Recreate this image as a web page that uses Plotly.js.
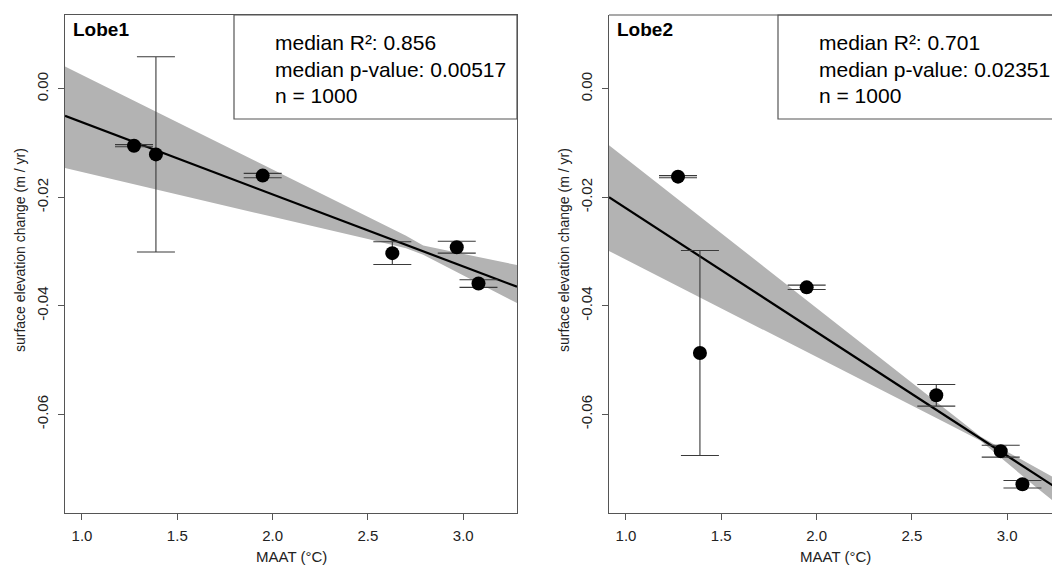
<!DOCTYPE html>
<html>
<head>
<meta charset="utf-8">
<script src="https://cdn.plot.ly/plotly-3.0.1.min.js"></script>
<style>html,body{margin:0;padding:0;background:#fff;}#chart{width:1052px;height:565px;}</style>
</head>
<body>
<div id="chart"></div>
<script>
// ---- data ----
const maat = [1.273, 1.388, 1.948, 2.628, 2.966, 3.080];

const lobe1Y   = [-0.0105, -0.0121, -0.0160, -0.0303, -0.0292, -0.0359];
const lobe1Err = [0.0002, 0.0180, 0.0004, 0.0021, 0.0011, 0.0007];
const lobe2Y   = [-0.0162, -0.0487, -0.0366, -0.0565, -0.0668, -0.0729];
const lobe2Err = [0.0002, 0.0189, 0.0004, 0.0020, 0.0011, 0.0007];

const lobe1LineX = [0.911, 3.282];
const lobe1LineY = [-0.0050, -0.0365];
const lobe2LineX = [0.911, 3.282];
const lobe2LineY = [-0.0200, -0.0741];

const band1X     = [0.911, 1.5, 2.0, 2.5, 2.7, 2.79, 2.9, 3.05, 3.282];
const band1Upper = [0.0041, -0.0062, -0.0149, -0.0236, -0.0271, -0.0289, -0.0297, -0.0308, -0.0325];
const band1Lower = [-0.0146, -0.0195, -0.0236, -0.0277, -0.0294, -0.0306, -0.0326, -0.0353, -0.0395];

const band2X     = [0.911, 1.5, 2.0, 2.5, 2.7, 2.86, 3.0, 3.15, 3.282];
const band2Upper = [-0.0104, -0.0266, -0.0404, -0.0541, -0.0596, -0.0641, -0.0669, -0.0698, -0.0724];
const band2Lower = [-0.0299, -0.0405, -0.0494, -0.0584, -0.0620, -0.0649, -0.0690, -0.0734, -0.0771];

const xTickVals = [1.0, 1.5, 2.0, 2.5, 3.0];
const xTickText = ['1.0', '1.5', '2.0', '2.5', '3.0'];
const yTickVals = [0.00, -0.02, -0.04, -0.06];
const yTickText = ['0.00', '-0.02', '-0.04', '-0.06'];

const panelNames = ['Lobe1', 'Lobe2'];
const statsText = [
  ['median R²: 0.856', 'median p-value: 0.00517', 'n = 1000'],
  ['median R²: 0.701', 'median p-value: 0.02351', 'n = 1000']
];
const xTitle = 'MAAT (°C)';
const yTitle = 'surface elevation change (m / yr)';

// ---- build ----
const W = 1052, H = 565;
const FONT = 'Liberation Sans, Arial, Helvetica, sans-serif';
const BAND = '#b3b3b3';
const AX = '#555555';

function bandTrace(xs, up, lo, xa, ya) {
  return {
    x: xs.concat(xs.slice().reverse()),
    y: up.concat(lo.slice().reverse()),
    xaxis: xa, yaxis: ya, type: 'scatter', mode: 'lines',
    fill: 'toself', fillcolor: BAND, line: {width: 0, color: BAND},
    hoverinfo: 'skip'
  };
}
function lineTrace(xs, ys, xa, ya) {
  return {x: xs, y: ys, xaxis: xa, yaxis: ya, type: 'scatter', mode: 'lines',
          line: {color: '#000', width: 2.2}, hoverinfo: 'skip'};
}
function pointTrace(xs, ys, err, xa, ya) {
  return {x: xs, y: ys, xaxis: xa, yaxis: ya, type: 'scatter', mode: 'markers',
          marker: {color: '#000', size: 14},
          error_y: {type: 'data', array: err, visible: true, color: '#3a3a3a', thickness: 1.1, width: 19}};
}

const traces = [
  bandTrace(band1X, band1Upper, band1Lower, 'x', 'y'),
  lineTrace(lobe1LineX, lobe1LineY, 'x', 'y'),
  pointTrace(maat, lobe1Y, lobe1Err, 'x', 'y'),
  bandTrace(band2X, band2Upper, band2Lower, 'x2', 'y2'),
  lineTrace(lobe2LineX, lobe2LineY, 'x2', 'y2'),
  pointTrace(maat, lobe2Y, lobe2Err, 'x2', 'y2')
];

const yRange = [-0.0782, 0.0136];
const plotTop = 15, plotBot = 513;
const yDom = [(H - plotBot) / H, (H - plotTop) / H];
const L1 = 65, R1 = 517, L2 = 609, R2 = 1052;

function xAxis(dom, rng, anchor, mirror) {
  return {domain: dom, range: rng, anchor: anchor, tickvals: xTickVals, ticktext: xTickText,
          ticks: 'outside', ticklen: 6, tickwidth: 1, tickcolor: AX,
          showline: true, linecolor: AX, linewidth: 1.2, mirror: mirror,
          showgrid: false, zeroline: false, fixedrange: true,
          tickfont: {family: FONT, size: 15, color: '#222'}, ticklabelstandoff: 3};
}
function yAxis(anchor, mirror) {
  return {domain: yDom, range: yRange, anchor: anchor, tickvals: yTickVals, ticktext: yTickText,
          ticks: 'outside', ticklen: 6, tickwidth: 1, tickcolor: AX, tickangle: -90,
          showline: true, linecolor: AX, linewidth: 1.2, mirror: mirror,
          showgrid: false, zeroline: false, fixedrange: true,
          tickfont: {family: FONT, size: 15, color: '#222'}, ticklabelstandoff: 4};
}

const px = v => v / W;
const py = v => (H - v) / H;

const shapes = [];
const annotations = [];
const offsets = [0, L2 - L1];
const rights = [R1, R2 + 12];
[0, 1].forEach(i => {
  const o = offsets[i];
  // stats box
  shapes.push({type: 'rect', xref: 'paper', yref: 'paper',
               x0: px(234 + o), x1: px(rights[i]), y0: py(119), y1: py(plotTop),
               line: {color: AX, width: 1.2}, fillcolor: 'rgba(255,255,255,0)'});
  // panel name
  annotations.push({xref: 'paper', yref: 'paper', x: px(71 + o), y: py(30), xanchor: 'left', yanchor: 'middle',
                    text: '<b>' + panelNames[i] + '</b>', showarrow: false,
                    font: {family: FONT, size: 19, color: '#000'}});
  // stats lines
  const ys = [43, 69, 95];
  statsText[i].forEach((t, k) => {
    annotations.push({xref: 'paper', yref: 'paper', x: px(273 + o), y: py(ys[k]), xanchor: 'left', yanchor: 'middle',
                      text: t, showarrow: false, font: {family: FONT, size: 21, color: '#000'}});
  });
  // axis titles
  annotations.push({xref: 'paper', yref: 'paper', x: px(291 + o), y: py(556), xanchor: 'center', yanchor: 'middle',
                    text: xTitle, showarrow: false, font: {family: FONT, size: 15, color: '#222'}});
  annotations.push({xref: 'paper', yref: 'paper', x: px(20 + o), y: py(250), xanchor: 'center', yanchor: 'middle',
                    text: yTitle, textangle: -90, showarrow: false, font: {family: FONT, size: 14, color: '#222'}});
});
// top border of right panel (its right edge lies off the page)
shapes.push({type: 'line', xref: 'paper', yref: 'paper', x0: px(L2), x1: 1, y0: py(plotTop), y1: py(plotTop),
             line: {color: AX, width: 1.2}});

const layout = {
  width: W, height: H, margin: {l: 0, r: 0, t: 0, b: 0}, autosize: false,
  paper_bgcolor: '#fff', plot_bgcolor: '#fff', showlegend: false,
  font: {family: FONT},
  xaxis: xAxis([px(L1), px(R1)], [0.911, 3.282], 'y', true),
  yaxis: yAxis('x', true),
  xaxis2: xAxis([px(L2), 1], [0.911, 3.235], 'y2', false),
  yaxis2: yAxis('x2', false),
  shapes: shapes, annotations: annotations
};

Plotly.newPlot('chart', traces, layout, {displayModeBar: false, staticPlot: true});
</script>
</body>
</html>
